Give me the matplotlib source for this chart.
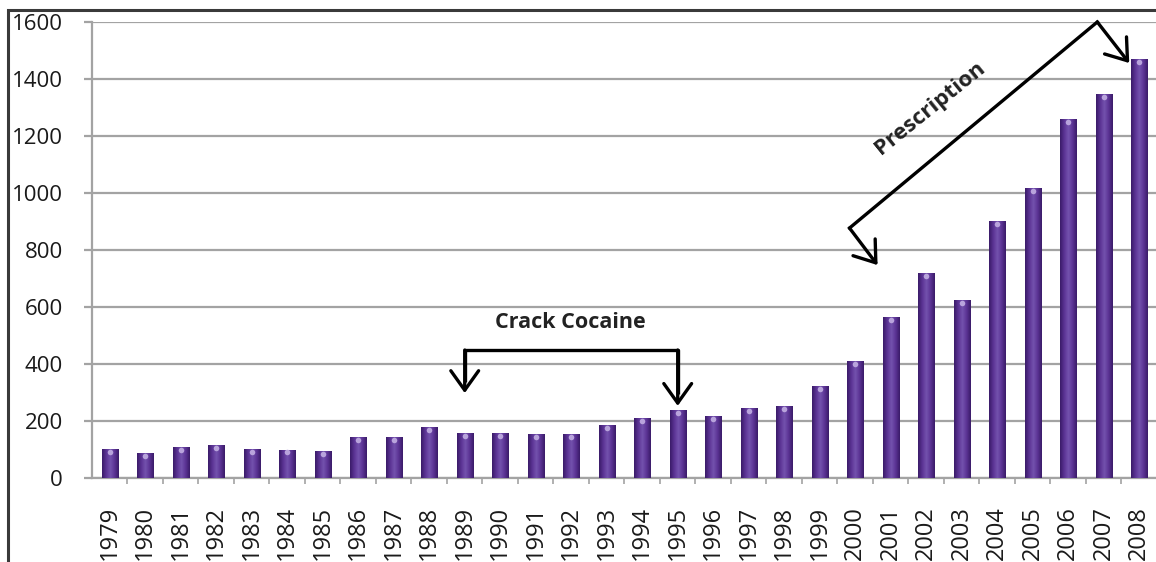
import numpy as np
import matplotlib.pyplot as plt
from matplotlib.patches import Rectangle
from matplotlib.colors import LinearSegmentedColormap

years = [str(y) for y in range(1979, 2009)]
deaths = [102, 88, 109, 116, 102, 100, 95, 144, 144, 179,
          158, 158, 154, 154, 186, 210, 239, 218, 246, 253,
          323, 411, 565, 719, 625, 902, 1018, 1260, 1347, 1470]

yticks = [0, 200, 400, 600, 800, 1000, 1200, 1400, 1600]

# annotation anchors (category index, value)
crack_label = "Crack Cocaine"
crack_start, crack_end = 10, 16
crack_top = 449
crack_tips = (298, 253)
rx_label = "Prescription"
rx_corner = (20.84, 877)
rx_left_tip = (21.63, 747)
rx_top = (27.82, 1600)
rx_right_tip = (28.72, 1456)

plt.rcParams['font.family'] = ['Open Sans', 'DejaVu Sans']

fig = plt.figure(figsize=(11.56, 5.62), dpi=100)
ax = fig.add_axes([92 / 1156, 84 / 562, 1066 / 1156, 456 / 562])

x = np.arange(len(years))
bars = ax.bar(x, deaths, width=0.46, color='#552c88', zorder=3)

# cylinder shading on each bar
cyl = LinearSegmentedColormap.from_list(
    'cyl', ['#3a1b68', '#5b3394', '#7452ae', '#5b3394', '#3a1b68'])
grad = np.linspace(0, 1, 64).reshape(1, -1)
for b in bars:
    x0, w, h = b.get_x(), b.get_width(), b.get_height()
    im = ax.imshow(grad, cmap=cyl, aspect='auto', zorder=4,
                   extent=[x0, x0 + w, 0, h], interpolation='bilinear')
    im.set_clip_path(b)
    ax.plot(x0 + w / 2, h - 10, 'o', ms=4, color='#b9a4dc', zorder=5,
            markeredgewidth=0)

ax.set_xlim(-0.5, 29.53)
ax.set_ylim(0, 1600)
ax.set_yticks(yticks)
ax.set_yticklabels([str(v) for v in yticks], fontsize=16, color='#1a1a1a')
ax.grid(axis='y', color='#a3a3a3', linewidth=1.6, zorder=0)

ax.set_xticks(x)
ax.set_xticklabels(years, rotation=90, fontsize=17, color='#1a1a1a',
                   va='top')
ax.set_xticks(np.arange(len(years)) + 0.5, minor=True)
ax.tick_params(axis='x', which='major', length=0, pad=20)
ax.tick_params(axis='x', which='minor', length=4, width=1.2, color='#a3a3a3')
ax.tick_params(axis='y', length=6, width=1.6, color='#a3a3a3', pad=15)

for s in ['top', 'right']:
    ax.spines[s].set_visible(False)
for s in ['left', 'bottom']:
    ax.spines[s].set_color('#a3a3a3')
    ax.spines[s].set_linewidth(1.6)

arrow_kw = dict(arrowstyle='->,head_length=0.7,head_width=0.5',
                color='black', lw=2.4, mutation_scale=20,
                shrinkA=0, shrinkB=0)

# crack cocaine bracket
ax.plot([crack_start, crack_start, crack_end, crack_end],
        [crack_tips[0] + 40, crack_top, crack_top, crack_tips[1] + 40],
        color='black', lw=2.4, zorder=6, solid_capstyle='butt')
ax.annotate('', xy=(crack_start, crack_tips[0]),
            xytext=(crack_start, crack_top), arrowprops=arrow_kw, zorder=6)
ax.annotate('', xy=(crack_end, crack_tips[1]),
            xytext=(crack_end, crack_top), arrowprops=arrow_kw, zorder=6)
ax.text((crack_start + crack_end) / 2 - 0.03, 544, crack_label,
        ha='center', va='center', fontsize=15.5, fontweight='bold',
        color='#222222', zorder=6)

# prescription bracket
ax.plot([rx_corner[0], rx_top[0]], [rx_corner[1], rx_top[1]],
        color='black', lw=2.4, zorder=6, clip_on=False)
ax.annotate('', xy=rx_left_tip, xytext=rx_corner,
            arrowprops=arrow_kw, zorder=6, annotation_clip=False)
ax.annotate('', xy=rx_right_tip, xytext=rx_top,
            arrowprops=arrow_kw, zorder=6, annotation_clip=False)
ax.text(23.12, 1298, rx_label, rotation=39, ha='center', va='center',
        fontsize=16, fontweight='bold', color='#222222', zorder=6,
        rotation_mode='anchor')

# outer frame
fig.patches.append(Rectangle((8 / 1156, -0.1), 1.2, 1.1 - 10 / 562,
                             transform=fig.transFigure, fill=False,
                             edgecolor='#3a3a3a', linewidth=2.2))

fig.savefig('out.png', dpi=100)
